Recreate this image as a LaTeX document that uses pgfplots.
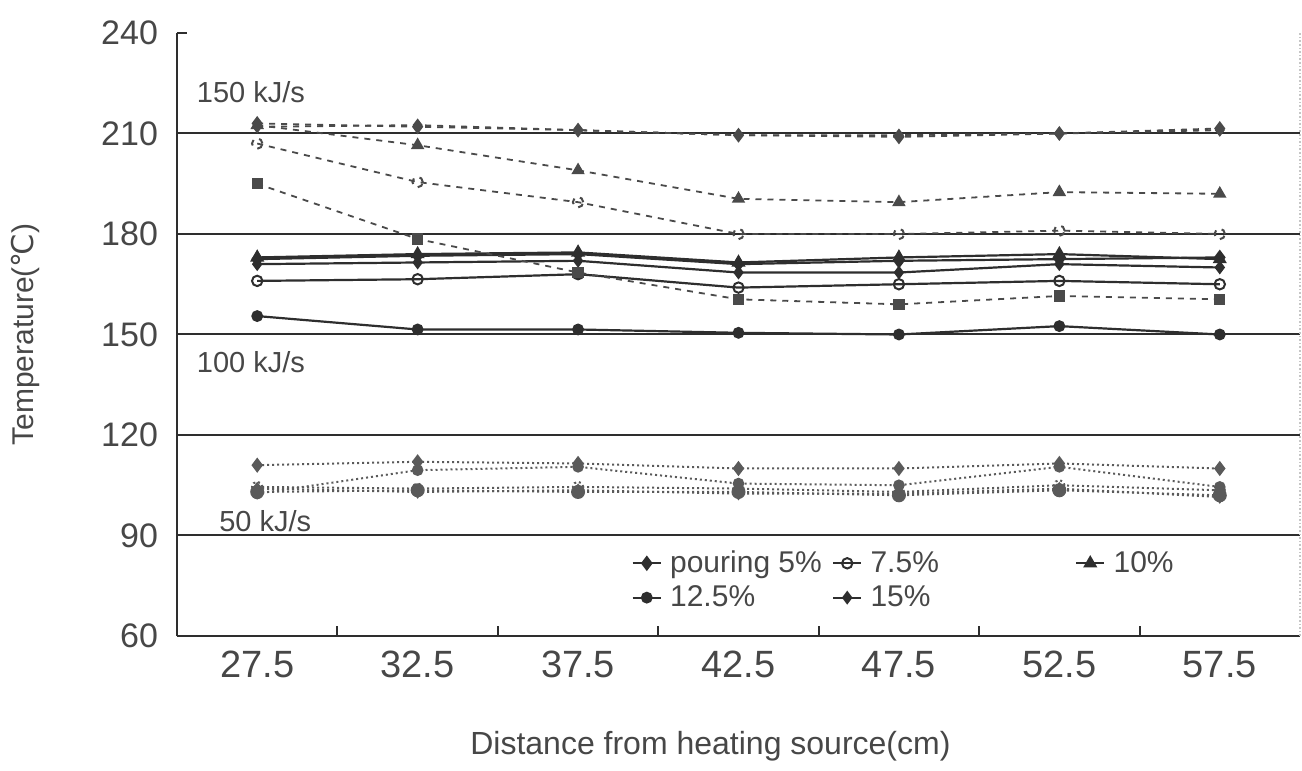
\documentclass[border=0pt]{standalone}
\usepackage{fontspec}
\setmainfont{Liberation Sans}
\newfontfamily\dejavu{DejaVu Sans}
\usepackage{pgfplots}
\usepackage{pgfplotstable}
\pgfplotsset{compat=1.18}
\definecolor{ink}{HTML}{2E2E2E}
\definecolor{inkb}{HTML}{4A4A4A}
\definecolor{inkc}{HTML}{5A5A5A}
\definecolor{txt}{HTML}{474747}

\pgfplotstableread{
x p5 p75 p10 p125 p15
0 213.0 207.0 212.5 195.0 212.0
1 212.0 195.5 206.5 178.5 212.5
2 211.0 189.5 199.0 168.5 211.0
3 209.5 180.0 190.5 160.5 209.5
4 209.0 180.0 189.5 159.0 209.5
5 210.0 181.0 192.5 161.5 210.0
6 211.5 180.0 192.0 160.5 211.0
}\tabhigh

\pgfplotstableread{
x p5 p75 p10 p125 p15
0 172.5 166.0 173.0 155.5 171.0
1 173.5 166.5 174.0 151.5 171.5
2 174.0 168.0 174.5 151.5 172.0
3 171.0 164.0 171.5 150.5 168.5
4 172.0 165.0 173.0 150.0 168.5
5 172.5 166.0 174.0 152.5 171.0
6 173.0 165.0 172.5 150.0 170.0
}\tabmid

\pgfplotstableread{
x p5 p75 p10 p125 p15
0 111.0 104.5 103.0 102.5 104.0
1 112.0 104.0 103.5 109.5 103.0
2 111.5 104.5 103.0 110.5 103.5
3 110.0 104.0 103.0 105.5 102.5
4 110.0 103.0 102.0 105.0 102.5
5 111.5 105.0 103.5 110.5 104.0
6 110.0 103.5 102.0 104.5 101.5
}\tablow

\pgfplotsset{
  hi/.style={inkb, line width=0.9pt, dash pattern=on 3pt off 3pt, mark options={solid}},
  md/.style={ink, line width=1.1pt},
  lo/.style={inkc, line width=1pt, dash pattern=on 1pt off 1.5pt, mark options={solid}},
  m5/.style={mark=diamond*, mark size=3pt},
  m75/.style={mark=o, mark size=2.6pt, mark options={fill=white, line width=1pt}},
  m10/.style={mark=triangle*, mark size=3pt},
  m125/.style={mark=*, mark size=2.4pt},
  m15/.style={mark=diamond*, mark size=2.6pt},
}

\begin{document}
\begin{tikzpicture}
\path[use as bounding box] (-88.5pt,-67.5pt) rectangle (562.5pt,318pt);
\begin{axis}[
  scale only axis, width=561.5pt, height=301.5pt,
  xmin=-0.5, xmax=6.5, ymin=60, ymax=240,
  axis x line*=bottom, axis y line*=left,
  axis line style={ink, line width=1.3pt},
  tick align=inside, major tick length=5pt,
  tick style={ink, line width=1pt},
  xtick={0.5,1.5,2.5,3.5,4.5,5.5}, xticklabels={},
  extra x ticks={0,1,2,3,4,5,6},
  extra x tick labels={27.5,32.5,37.5,42.5,47.5,52.5,57.5},
  extra x tick style={major tick length=0pt},
  xticklabel style={font=\fontsize{19}{21}\selectfont, text=txt, yshift=-4pt},
  ytick={90,120,150,180,210},
  extra y ticks={60,240},
  extra y tick style={grid=none},
  ymajorgrids,
  major grid style={ink, line width=1pt},
  /pgf/number format/assume math mode=true,
  yticklabel style={font=\fontsize{17}{19}\selectfont, text=txt, xshift=-6pt},
  xlabel={Distance from heating source(cm)},
  xlabel style={font=\fontsize{16}{18}\selectfont, text=txt, at={(axis description cs:0.475,-0.183)}, anchor=center},
  ylabel={Temperature({\dejavu ℃})},
  ylabel style={font=\fontsize{15}{17}\selectfont, text=txt, at={(axis description cs:-0.135,0.5)}, anchor=center, rotate=0},
  legend columns=3,
  legend cell align=left,
  legend style={draw=none, fill=none, at={(rel axis cs:0.399,0.155)}, anchor=north west,
    font=\fontsize{15}{17}\selectfont, text=txt, row sep=1pt,
    /tikz/column 2/.style={column sep=3pt},
    /tikz/column 4/.style={column sep=66pt},
    /tikz/every odd column/.append style={column sep=2pt}},
  legend image code/.code={\draw[mark repeat=2,mark phase=2,#1] plot coordinates {(0cm,0cm) (0.25cm,0cm) (0.5cm,0cm)};},
  clip=false,
]
% 100 kJ/s (solid) -- legend entries
\addplot[md, m5] table[x=x, y=p5] {\tabmid}; \addlegendentry{pouring 5\%}
\addplot[md, m75] table[x=x, y=p75] {\tabmid}; \addlegendentry{7.5\%}
\addplot[md, m10] table[x=x, y=p10] {\tabmid}; \addlegendentry{10\%}
\addplot[md, m125] table[x=x, y=p125] {\tabmid}; \addlegendentry{12.5\%}
\addplot[md, m15] table[x=x, y=p15] {\tabmid}; \addlegendentry{15\%}
% 150 kJ/s (dashed)
\addplot[hi, m5, forget plot] table[x=x, y=p5] {\tabhigh};
\addplot[hi, m75, forget plot] table[x=x, y=p75] {\tabhigh};
\addplot[hi, m10, forget plot] table[x=x, y=p10] {\tabhigh};
\addplot[hi, m125, mark=square*, forget plot] table[x=x, y=p125] {\tabhigh};
\addplot[hi, m15, forget plot] table[x=x, y=p15] {\tabhigh};
% 50 kJ/s (dotted)
\addplot[lo, m5, forget plot] table[x=x, y=p5] {\tablow};
\addplot[lo, m75, mark=*, forget plot] table[x=x, y=p75] {\tablow};
\addplot[lo, m10, mark=*, forget plot] table[x=x, y=p10] {\tablow};
\addplot[lo, m125, forget plot] table[x=x, y=p125] {\tablow};
\addplot[lo, m15, forget plot] table[x=x, y=p15] {\tablow};
% labels
\node[anchor=west, font=\fontsize{14.5}{16}\selectfont, text=txt] at (axis cs:-0.42,222.4) {150 kJ/s};
\node[anchor=west, font=\fontsize{14.5}{16}\selectfont, text=txt] at (axis cs:-0.42,141.9) {100 kJ/s};
\node[anchor=west, font=\fontsize{14.5}{16}\selectfont, text=txt] at (axis cs:-0.28,94.3) {50 kJ/s};
\draw[gray!45, densely dotted, line width=0.8pt] (rel axis cs:1,0) -- (rel axis cs:1,1);
\end{axis}
\end{tikzpicture}
\end{document}
